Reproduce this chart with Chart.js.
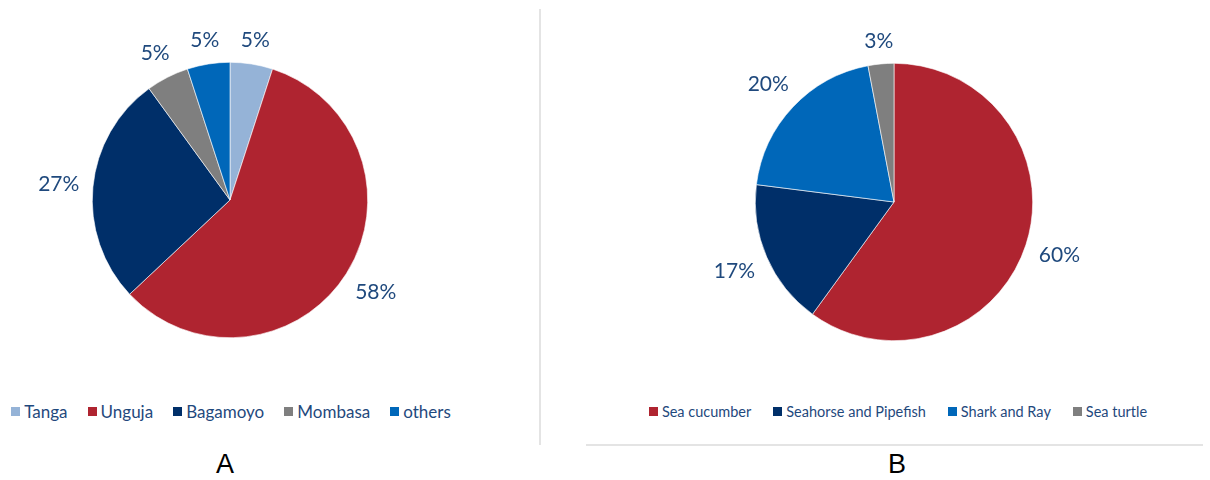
<!DOCTYPE html>
<html>
<head>
<meta charset="utf-8">
<script src="https://cdn.jsdelivr.net/npm/chart.js@4"></script>
<style>
  html, body { margin: 0; padding: 0; background: #ffffff; }
  #page { position: relative; width: 1210px; height: 480px; overflow: hidden; font-family: Lato, "Noto Sans", sans-serif; }
  .pie { position: absolute; top: 0; width: 460px; height: 400px; }
  .legend { position: absolute; display: flex; justify-content: center; align-items: center; color: #1F497D; white-space: nowrap; }
  .legend .item { display: flex; align-items: center; }
  .legend .box { display: inline-block; width: 9px; height: 9px; margin-right: 4px; }
  .panel-letter { position: absolute; top: 449px; font-family: "Liberation Sans", Arial, sans-serif; font-size: 27px; color: #000; transform: translateX(-50%); }
  .vrule { position: absolute; left: 539px; top: 9px; width: 2px; height: 436px; background: #E4E4E4; }
  .hrule { position: absolute; left: 586px; top: 444px; width: 617px; height: 2px; background: #E4E4E4; }
</style>
</head>
<body>
<div id="page">
  <div class="pie" style="left:0px"><canvas id="pieA"></canvas></div>
  <div class="pie" style="left:664px"><canvas id="pieB"></canvas></div>
  <div class="legend" id="legendA" style="left:0px; width:462px; top:400px; height:22px; font-size:17px; gap:20px;"></div>
  <div class="legend" id="legendB" style="left:648px; width:500px; top:401px; height:20px; font-size:14.5px; gap:22px;"></div>
  <div class="vrule"></div>
  <div class="hrule"></div>
  <div class="panel-letter" style="left:225px">A</div>
  <div class="panel-letter" style="left:897px">B</div>
</div>
<script>
// Panel A: share by landing site
const regionLabels = ['Tanga', 'Unguja', 'Bagamoyo', 'Mombasa', 'others'];
const regionShares = [5, 58, 27, 5, 5];
const regionColors = ['#95B3D7', '#AF2430', '#002F69', '#7F7F7F', '#0067B9'];

// Panel B: share by species group
const speciesLabels = ['Sea cucumber', 'Seahorse and Pipefish', 'Shark and Ray', 'Sea turtle'];
const speciesShares = [60, 17, 20, 3];
const speciesColors = ['#AF2430', '#002F69', '#0067B9', '#7F7F7F'];

const labelColor = '#1F497D';
const labelFont = { family: 'Lato, "Noto Sans", sans-serif', size: 21 };

// Percentage labels placed just outside each slice, along its middle angle
const outsideLabels = {
  id: 'outsideLabels',
  afterDatasetsDraw(chart) {
    const ctx = chart.ctx;
    const meta = chart.getDatasetMeta(0);
    const values = chart.data.datasets[0].data;
    ctx.save();
    ctx.font = labelFont.size + 'px ' + labelFont.family;
    ctx.fillStyle = labelColor;
    ctx.textAlign = 'center';
    ctx.textBaseline = 'middle';
    meta.data.forEach((arc, i) => {
      const p = arc.getProps(['x', 'y', 'startAngle', 'endAngle', 'outerRadius'], true);
      const mid = (p.startAngle + p.endAngle) / 2;
      const dx = Math.cos(mid), dy = Math.sin(mid);
      const text = values[i] + '%';
      const w = ctx.measureText(text).width;
      const h = labelFont.size * 0.8;
      const dist = p.outerRadius + 13 + Math.abs(dx) * w / 2 + Math.abs(dy) * h / 2;
      ctx.fillText(text, p.x + dx * dist, p.y + dy * dist);
    });
    ctx.restore();
  }
};

function makePie(canvasId, labels, values, colors, padding) {
  return new Chart(document.getElementById(canvasId), {
    type: 'pie',
    data: {
      labels: labels,
      datasets: [{
        data: values,
        backgroundColor: colors,
        borderColor: '#ffffff',
        borderWidth: 0.6
      }]
    },
    options: {
      responsive: true,
      maintainAspectRatio: false,
      animation: false,
      layout: { padding: padding },
      plugins: {
        legend: { display: false },
        tooltip: { enabled: false }
      }
    },
    plugins: [outsideLabels]
  });
}

function buildLegend(containerId, labels, colors) {
  const box = document.getElementById(containerId);
  labels.forEach((name, i) => {
    const item = document.createElement('span');
    item.className = 'item';
    const swatch = document.createElement('span');
    swatch.className = 'box';
    swatch.style.background = colors[i];
    const txt = document.createElement('span');
    txt.textContent = name;
    item.appendChild(swatch);
    item.appendChild(txt);
    box.appendChild(item);
  });
}

makePie('pieA', regionLabels, regionShares, regionColors, { top: 62, bottom: 62, left: 0, right: 0 });
makePie('pieB', speciesLabels, speciesShares, speciesColors, { top: 63, bottom: 59, left: 0, right: 0 });
buildLegend('legendA', regionLabels, regionColors);
buildLegend('legendB', speciesLabels, speciesColors);
</script>
</body>
</html>
